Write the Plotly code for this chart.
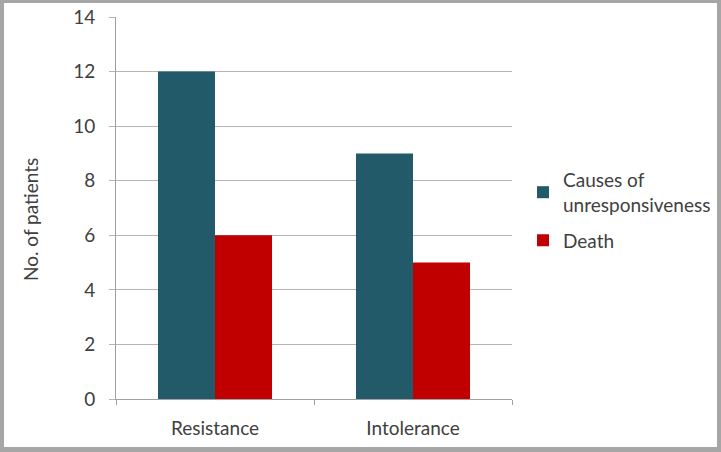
import plotly.graph_objects as go

categories = ["Resistance", "Intolerance"]
causes = [12, 9]
death = [6, 5]
y_ticks = [0, 2, 4, 6, 8, 10, 12, 14]
y_title = "No. of patients"

W, H = 721, 452
L, R, T, B = 116, 209, 17, 53
pw, ph = W - L - R, H - T - B

def px(x):
    return (x - L) / pw

def py(y):
    return (H - B - y) / ph

FS = 19
font = dict(family="Lato, 'Open Sans', sans-serif", size=FS, color="#404040")

fig = go.Figure()
fig.add_bar(x=categories, y=causes, name="Causes of<br>unresponsiveness",
            legendgroup="a", marker=dict(color="#225a69", line=dict(width=0)))
fig.add_bar(x=categories, y=death, name="Death", legendgroup="b",
            marker=dict(color="#c00000", line=dict(width=0)))

border = "#a6a6a6"
shapes = [
    dict(type="rect", xref="paper", yref="paper", x0=px(0), x1=px(4), y0=py(H), y1=py(0),
         fillcolor=border, line=dict(width=0), layer="above"),
    dict(type="rect", xref="paper", yref="paper", x0=px(717), x1=px(W), y0=py(H), y1=py(0),
         fillcolor=border, line=dict(width=0), layer="above"),
    dict(type="rect", xref="paper", yref="paper", x0=px(0), x1=px(W), y0=py(3), y1=py(0),
         fillcolor=border, line=dict(width=0), layer="above"),
    dict(type="rect", xref="paper", yref="paper", x0=px(0), x1=px(W), y0=py(H), y1=py(447),
         fillcolor=border, line=dict(width=0), layer="above"),
]

fig.update_layout(
    width=W, height=H,
    margin=dict(l=L, r=R, t=T, b=B, pad=0, autoexpand=False),
    paper_bgcolor="white", plot_bgcolor="white",
    barmode="group", bargap=0.424, bargroupgap=0,
    font=font,
    showlegend=True,
    legend=dict(x=px(523), y=py(161), xanchor="left", yanchor="top",
                font=dict(size=FS, color="#404040"), traceorder="grouped",
                tracegroupgap=8, itemwidth=30, bgcolor="rgba(0,0,0,0)"),
    shapes=shapes,
    annotations=[dict(text=y_title, textangle=-90, xref="paper", yref="paper",
                      x=px(31), y=py(220), xanchor="center", yanchor="middle",
                      showarrow=False, font=dict(size=FS, color="#404040"))],
    xaxis=dict(showline=True, linecolor="#a0a0a0", linewidth=1,
               ticks="outside", ticklen=5, tickcolor="#a0a0a0",
               tickson="boundaries", showgrid=False, ticklabelstandoff=12,
               tickfont=dict(size=FS, color="#404040")),
    yaxis=dict(range=[0, 14], tickvals=y_ticks, showline=True,
               linecolor="#a0a0a0", linewidth=1,
               showgrid=True, gridcolor="#b4b4b4", gridwidth=1,
               ticks="outside", ticklen=6, tickcolor="#b4b4b4",
               ticklabelstandoff=10,
               tickfont=dict(size=FS, color="#404040"),
               zeroline=False),
)

fig.write_html("out.html", config={"displayModeBar": False},
               post_script="document.body.style.margin='0';")
